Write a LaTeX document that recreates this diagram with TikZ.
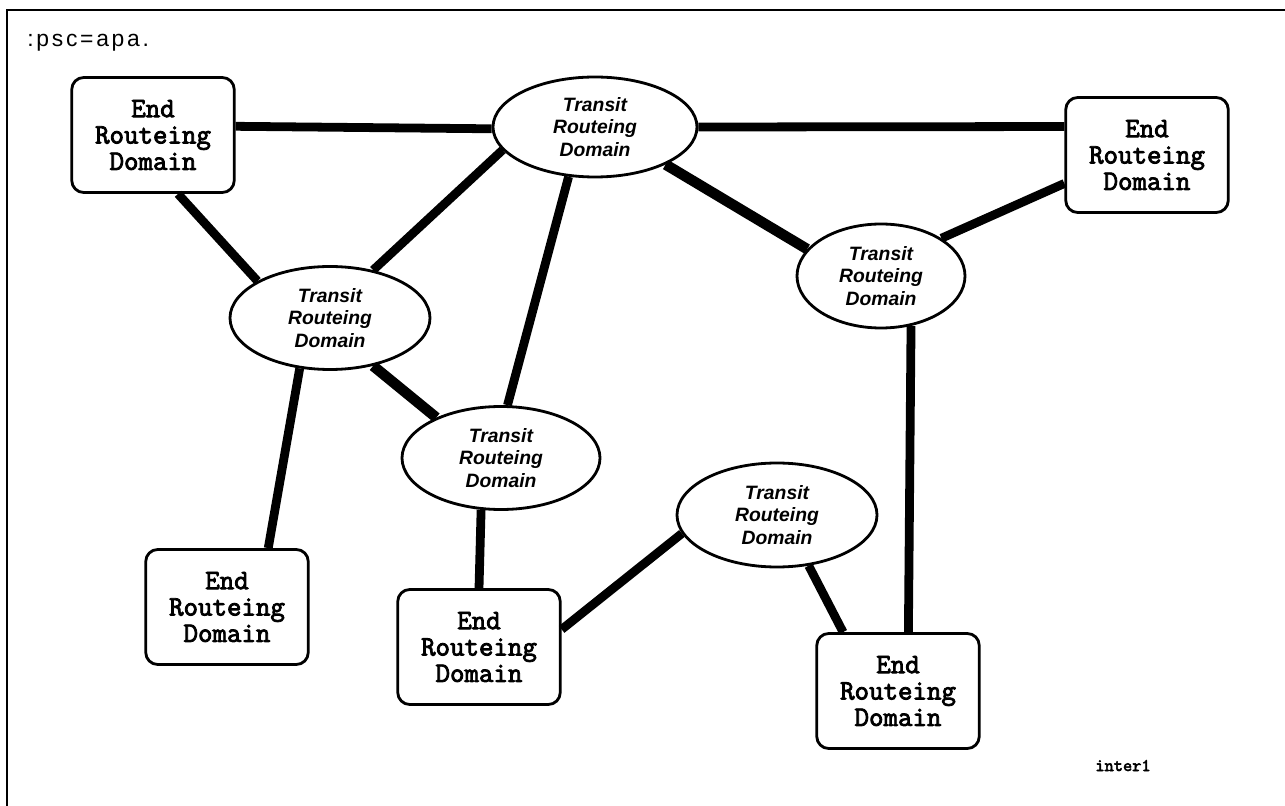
\documentclass[tikz,border=0pt]{standalone}
\usepackage{fontspec}
\usepackage{tikz}
\usetikzlibrary{shapes}
\newfontfamily\boxfont[FakeBold=3]{Latin Modern Mono}
\newfontfamily\ellfont{Liberation Sans}
\newfontfamily\tagfont[LetterSpace=12]{Liberation Sans}

\begin{document}
\begin{tikzpicture}[
    enddom/.style={draw, line width=1.6pt, rounded corners=0.24cm, minimum width=3.25cm, minimum height=2.3cm, inner sep=0pt, align=center, font=\boxfont\fontsize{16}{15}\selectfont},
    transdom/.style={draw, ellipse, line width=1.6pt, inner sep=0pt, align=center, font=\ellfont\bfseries\itshape\fontsize{11}{12.9}\selectfont},
    link/.style={line width=5pt}
]
    \useasboundingbox (0,0) rectangle (25.7,-16.12);
    % Frame and labels
    \draw[line width=1.2pt] (0.14,-16.12) -- (0.14,-0.2) -- (25.7,-0.2);
    \node[anchor=base west, inner sep=0pt, font=\tagfont\fontsize{13}{15}\selectfont] (tag) at (0.54,-0.94) {:psc=apa.};
    \node[anchor=base, inner sep=0pt, font=\boxfont\fontsize{10}{11}\selectfont] (name) at (22.46,-15.42) {inter1};

    % End routeing domains
    \node[enddom] (E1) at (3.06,-2.70) {End\\Routeing\\Domain};
    \node[enddom] (E2) at (22.94,-3.10) {End\\Routeing\\Domain};
    \node[enddom] (E3) at (4.54,-12.14) {End\\Routeing\\Domain};
    \node[enddom] (E4) at (9.58,-12.94) {End\\Routeing\\Domain};
    \node[enddom] (E5) at (17.96,-13.82) {End\\Routeing\\Domain};

    % Transit routeing domains
    \node[transdom, minimum width=4.08cm, minimum height=2.0cm] (T1) at (11.9,-2.54) {Transit\\Routeing\\Domain};
    \node[transdom, minimum width=3.36cm, minimum height=2.08cm] (T2) at (17.62,-5.52) {Transit\\Routeing\\Domain};
    \node[transdom, minimum width=4.0cm, minimum height=2.06cm] (T3) at (6.6,-6.36) {Transit\\Routeing\\Domain};
    \node[transdom, minimum width=3.96cm, minimum height=2.06cm] (T4) at (10.02,-9.16) {Transit\\Routeing\\Domain};
    \node[transdom, minimum width=4.0cm, minimum height=2.08cm] (T5) at (15.54,-10.3) {Transit\\Routeing\\Domain};

    % Links
    \draw[link] (E1.6) -- (T1.181);
    \draw[link] (T1.0) -- (E2.161);
    \draw[link] (E1.-67) -- (T3.153);
    \draw[link] (T1.194) -- (T3.48);
    \draw[link] (T1.242) -- (T4.83);
    \draw[link, line width=6pt] (T1.-28) -- (T2.160);
    \draw[link] (E2.199) -- (T2.32);
    \draw[link] (T3.-121) -- (E3.55);
    \draw[link, line width=6pt] (T3.-48) -- (T4.148);
    \draw[link] (T4.-111) -- (E4.north);
    \draw[link] (E4.12) -- (T5.191);
    \draw[link] (T5.-58) -- (E5.133);
    \draw[link] (T2.-59) -- (E5.80);
\end{tikzpicture}
\end{document}
